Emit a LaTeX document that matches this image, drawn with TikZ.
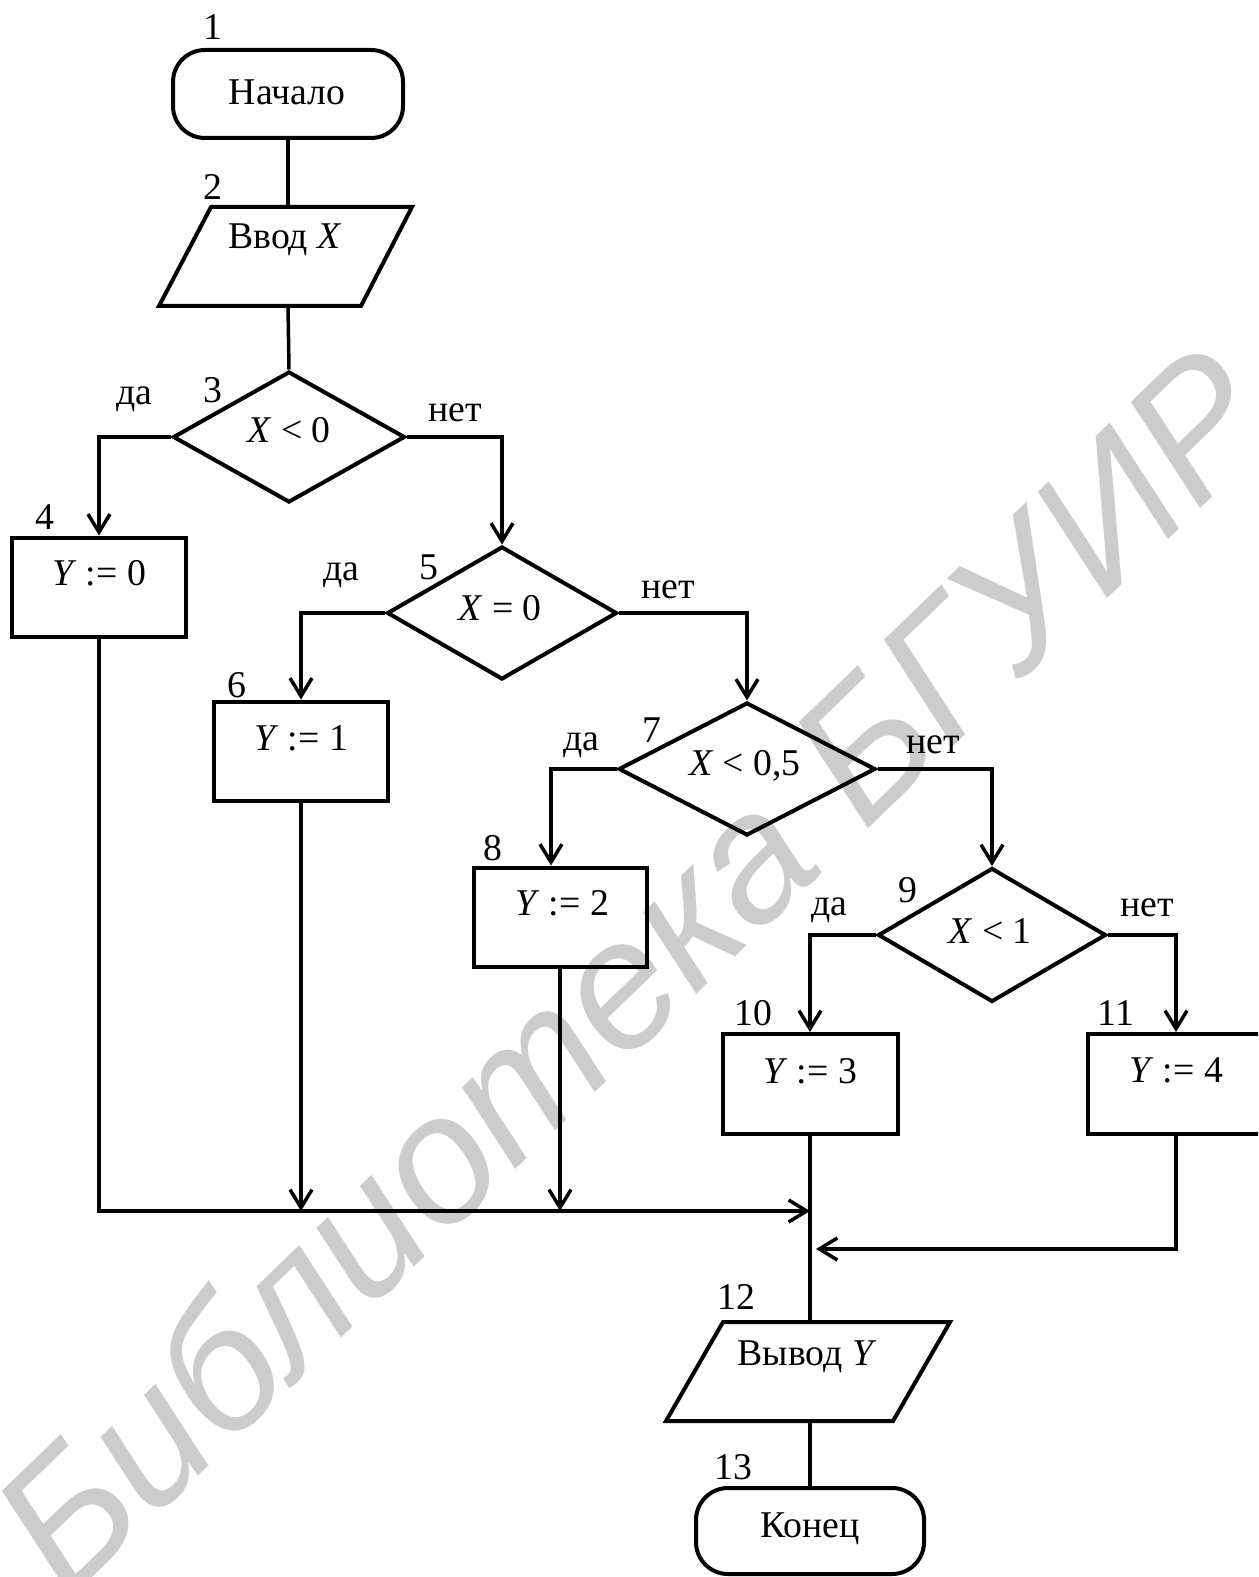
\documentclass[tikz,border=0pt]{standalone}
\usepackage{fontspec}
\setmainfont{Liberation Serif}
\setsansfont{Liberation Sans}
\usetikzlibrary{arrows.meta,shapes.geometric,calc}
\begin{document}
\begin{tikzpicture}[x=0.02cm,y=-0.02cm,
  shape line/.style={line width=0.08cm},
  conn/.style={line width=0.07cm},
  arr/.style={conn,-{Straight Barb[length=0.36cm,width=0.44cm]}},
  txt/.style={inner sep=0pt,font=\fontsize{21.5}{26}\selectfont},
  boxnode/.style={shape line,draw,rectangle,inner sep=0pt,minimum width=174*0.02cm,minimum height=99*0.02cm},
  decision/.style={shape line,draw,diamond,inner sep=0pt},
  terminal/.style={shape line,draw,rectangle,rounded corners=0.64cm,inner sep=0pt}
]
\useasboundingbox (0,0) rectangle (1258,1577);
\clip (0,0) rectangle (1258,1577);
% watermark
\node[rotate=44,text=black!20,inner sep=0pt,font=\fontsize{103}{103}\selectfont\sffamily\itshape] (wm) at (630,968) {Библиотека БГУИР};

% shapes
\node[terminal,minimum width=230*0.02cm,minimum height=88*0.02cm] (start) at (288,94) {};
\node[txt] (tstart) at (287,92) {Начало};

\coordinate (p1tl) at (211,207); \coordinate (p1tr) at (412,207);
\coordinate (p1br) at (361,306); \coordinate (p1bl) at (159,306);
\coordinate (p1t) at (288,207); \coordinate (p1b) at (288,306);
\draw[shape line,line join=miter] (p1tl) -- (p1tr) -- (p1br) -- (p1bl) -- cycle;
\node[txt] (tp1) at (285,240) {Ввод \textit{X}};

\node[decision,minimum width=232*0.02cm,minimum height=131*0.02cm] (d3) at (289,437) {};
\node[txt] (td3) at (289,430) {\textit{X} < 0};

\node[boxnode] (b4) at (99,587) {};
\node[txt] (tb4) at (99,573) {\textit{Y} := 0};

\node[decision,minimum width=230*0.02cm,minimum height=133*0.02cm] (d5) at (502,613) {};
\node[txt] (td5) at (500,608) {\textit{X} = 0};

\node[boxnode] (b6) at (301,751) {};
\node[txt] (tb6) at (301,738) {\textit{Y} := 1};

\node[decision,minimum width=257*0.02cm,minimum height=133*0.02cm] (d7) at (747,769) {};
\node[txt] (td7) at (745,766) {\textit{X} < 0,5};

\node[boxnode,minimum width=173*0.02cm] (b8) at (560,917) {};
\node[txt] (tb8) at (562,903) {\textit{Y} := 2};

\node[decision,minimum width=228*0.02cm,minimum height=134*0.02cm] (d9) at (992,935) {};
\node[txt] (td9) at (990,931) {\textit{X} < 1};

\node[boxnode,minimum width=175*0.02cm,minimum height=100*0.02cm] (b10) at (810,1084) {};
\node[txt] (tb10) at (810,1071) {\textit{Y} := 3};

\node[boxnode,minimum width=176*0.02cm,minimum height=100*0.02cm] (b11) at (1176,1084) {};
\node[txt] (tb11) at (1176,1070) {\textit{Y} := 4};

\coordinate (p2tl) at (723,1322); \coordinate (p2tr) at (950,1322);
\coordinate (p2br) at (893,1421); \coordinate (p2bl) at (666,1421);
\coordinate (p2t) at (810,1322); \coordinate (p2b) at (810,1421);
\draw[shape line,line join=miter] (p2tl) -- (p2tr) -- (p2br) -- (p2bl) -- cycle;
\node[txt] (tp2) at (807,1357) {Вывод \textit{Y}};

\node[terminal,minimum width=228*0.02cm,minimum height=86*0.02cm] (end) at (810,1531) {};
\node[txt] (tend) at (810,1529) {Конец};

% numbers
\node[txt] (n1) at (213,27) {1};
\node[txt] (n2) at (213,187) {2};
\node[txt] (n3) at (213,390) {3};
\node[txt] (n4) at (45,517) {4};
\node[txt] (n5) at (429,567) {5};
\node[txt] (n6) at (237,685) {6};
\node[txt] (n7) at (652,730) {7};
\node[txt] (n8) at (493,848) {8};
\node[txt] (n9) at (908,890) {9};
\node[txt] (n10) at (753,1013) {10};
\node[txt] (n11) at (1116,1013) {11};
\node[txt] (n12) at (736,1297) {12};
\node[txt] (n13) at (733,1467) {13};

% yes/no labels
\node[txt] (y3) at (134,399) {да};
\node[txt] (no3) at (455,413) {нет};
\node[txt] (y5) at (341,575) {да};
\node[txt] (no5) at (668,590) {нет};
\node[txt] (y7) at (581,745) {да};
\node[txt] (no7) at (933,745) {нет};
\node[txt] (y9) at (829,910) {да};
\node[txt] (no9) at (1147,908) {нет};

% connectors
\draw[conn] (start.south) -- (p1t);
\draw[conn] (p1b) -- (d3.north);
\draw[arr] (d3.west) -| (b4.north);
\draw[arr] (d3.east) -| (d5.north);
\draw[arr] (d5.west) -| (b6.north);
\draw[arr] (d5.east) -| (d7.north);
\draw[arr] (d7.west) -| ([xshift=-9*0.02cm]b8.north);
\draw[arr] (d7.east) -| (d9.north);
\draw[arr] (d9.west) -| (b10.north);
\draw[arr] (d9.east) -| (b11.north);

\coordinate (m1) at (810,1211);
\coordinate (m2) at (810,1249);
\draw[arr] (b4.south) |- (m1);
\draw[arr] (b6.south) -- (b6.south |- m1);
\draw[arr] (b8.south) -- (b8.south |- m1);
\draw[conn] (b10.south) -- (p2t);
\draw[arr] (b11.south) |- ([xshift=6*0.02cm]m2);
\draw[conn] (p2b) -- (end.north);
\end{tikzpicture}
\end{document}
